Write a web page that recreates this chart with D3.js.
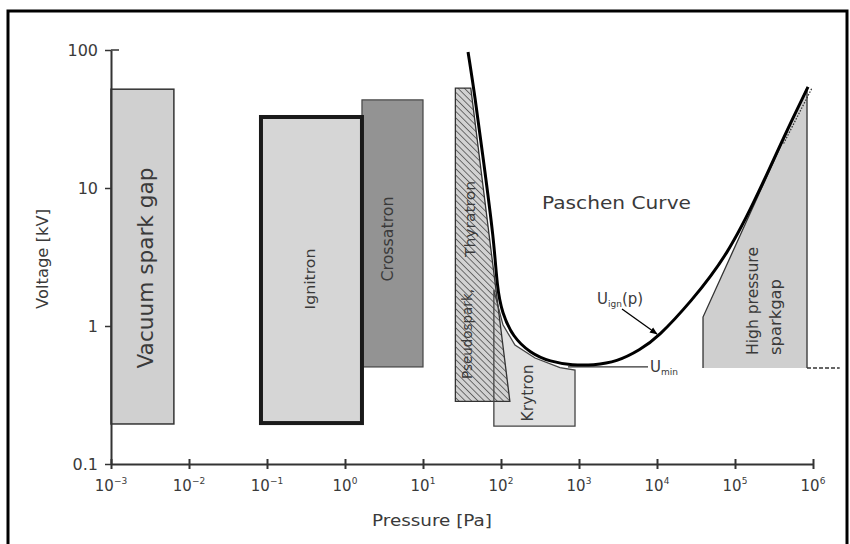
<!DOCTYPE html>
<html>
<head>
<meta charset="utf-8">
<script src="https://cdn.jsdelivr.net/npm/d3@7"></script>
<style>
  body { margin:0; background:#fff; }
  svg text { font-family: "DejaVu Sans", sans-serif; fill:#3a3a3a; }
</style>
</head>
<body>
<div id="chart"></div>
<script>
// axis ticks
var xDecades = [-3,-2,-1,0,1,2,3,4,5,6];
var yTicks = [0.1, 1, 10, 100];
var yTickLabels = ["0.1","1","10","100"];

// rectangular device ranges (pressure Pa, voltage kV)
var boxNames = ["Vacuum spark gap","Crossatron","Ignitron"];
var boxPMin = [0.001, 1.65, 0.0837];
var boxPMax = [0.0064, 10, 1.65];
var boxVMin = [0.195, 0.505, 0.198];
var boxVMax = [52, 43.5, 32.7];

// polygons
var thyratronP = [26, 26, 41, 130];
var thyratronV = [0.284, 53, 53, 0.284];
var krytronP = [81, 81, 106, 151, 273, 570, 889, 889];
var krytronV = [0.188, 1.82, 1.02, 0.728, 0.586, 0.50, 0.48, 0.188];
var sparkgapP = [38900, 38900, 838000, 838000];
var sparkgapV = [0.497, 1.16, 53, 0.497];

// Paschen curve
var paschenP = [37.8, 46.5, 58.7, 81.3, 88.9, 103, 143, 235, 425, 838, 1510, 3070, 6050, 10300, 26500, 81000, 209000, 420000, 863000];
var paschenV = [96.8, 45.6, 16.8, 4.2, 1.92, 1.24, 0.83, 0.64, 0.55, 0.52, 0.52, 0.55, 0.67, 0.83, 1.47, 3.27, 9.68, 23.4, 54];

var width = 850, height = 544;

var svg = d3.select("#chart").append("svg")
    .attr("width", width).attr("height", height);

// frame
svg.append("rect").attr("x",8).attr("y",11).attr("width",839).attr("height",560)
   .attr("fill","none").attr("stroke","#000").attr("stroke-width",3);

var x = d3.scaleLog().domain([1e-3, 1e6]).range([111, 813]);
var y = d3.scaleLog().domain([0.1, 100]).range([464, 50]);

var defs = svg.append("defs");
var pat = defs.append("pattern").attr("id","hatch")
   .attr("patternUnits","userSpaceOnUse").attr("width",4.5).attr("height",4.5)
   .attr("patternTransform","rotate(-45)");
pat.append("rect").attr("width",4.5).attr("height",4.5).attr("fill","#d2d2d2");
pat.append("line").attr("x1",0).attr("y1",0).attr("x2",0).attr("y2",4.5)
   .attr("stroke","#333").attr("stroke-width",1.3);

var poly = function(P, V){
  return P.map(function(p,i){ return [x(p), y(V[i])]; });
};
var polyLine = d3.line();

// boxes
var boxFill = ["#d0d0d0","#939393","#d6d6d6"];
var boxStroke = ["#333","#444","#1a1a1a"];
var boxWidth = [1.5, 1.2, 4];
boxNames.forEach(function(n,i){
  svg.append("rect")
    .attr("x", x(boxPMin[i])).attr("y", y(boxVMax[i]))
    .attr("width", x(boxPMax[i]) - x(boxPMin[i]))
    .attr("height", y(boxVMin[i]) - y(boxVMax[i]))
    .attr("fill", boxFill[i]).attr("stroke", boxStroke[i]).attr("stroke-width", boxWidth[i]);
});

// krytron fill, thyratron hatch, krytron outline
svg.append("path").attr("d", polyLine(poly(krytronP, krytronV)) + "Z")
   .attr("fill","#e1e1e1").attr("stroke","none");
svg.append("path").attr("d", polyLine(poly(thyratronP, thyratronV)) + "Z")
   .attr("fill","url(#hatch)").attr("stroke","#333").attr("stroke-width",1.3);
svg.append("path").attr("d", polyLine(poly(krytronP, krytronV)) + "Z")
   .attr("fill","none").attr("stroke","#444").attr("stroke-width",1.3);

// high pressure sparkgap
svg.append("path").attr("d", polyLine(poly(sparkgapP, sparkgapV)))
   .attr("fill","#cfcfcf").attr("stroke","#333").attr("stroke-width",1.3);
svg.append("line")
   .attr("x1", x(sparkgapP[3])).attr("y1", y(sparkgapV[3]))
   .attr("x2", x(2.2e6)).attr("y2", y(sparkgapV[3]))
   .attr("stroke","#333").attr("stroke-width",1.5).attr("stroke-dasharray","4,2");
svg.append("line")
   .attr("x1", x(420000)).attr("y1", y(21))
   .attr("x2", x(970000)).attr("y2", y(53))
   .attr("stroke","#333").attr("stroke-width",1.3).attr("stroke-dasharray","1.5,1.5");

// U_min line
svg.append("line")
   .attr("x1", x(723)).attr("y1", y(0.505))
   .attr("x2", x(7670)).attr("y2", y(0.505))
   .attr("stroke","#333").attr("stroke-width",1.3);

// Paschen curve
var curve = d3.line()
   .x(function(d){ return x(d[0]); })
   .y(function(d){ return y(d[1]); })
   .curve(d3.curveBasis);
svg.append("path")
   .attr("d", curve(paschenP.map(function(p,i){ return [p, paschenV[i]]; })))
   .attr("fill","none").attr("stroke","#000").attr("stroke-width",3);

// arrow for U_ign
defs.append("marker").attr("id","arr").attr("viewBox","0 0 10 10")
   .attr("refX",9).attr("refY",5).attr("markerWidth",6).attr("markerHeight",6)
   .attr("orient","auto")
   .append("path").attr("d","M0,1L10,5L0,9Z").attr("fill","#000");
svg.append("line")
   .attr("x1", x(3560)).attr("y1", y(1.33))
   .attr("x2", x(10000)).attr("y2", y(0.875))
   .attr("stroke","#000").attr("stroke-width",1.3).attr("marker-end","url(#arr)");

// axes
var xAxis = d3.axisBottom(x)
   .tickValues(xDecades.map(function(e){ return Math.pow(10,e); }))
   .tickFormat("").tickSize(5).tickSizeOuter(0);
var gx = svg.append("g").attr("transform","translate(0,464)").call(xAxis);
gx.select(".domain").attr("stroke","#333").attr("stroke-width",2);
gx.selectAll(".tick line").attr("y1",-5).attr("y2",5).attr("stroke","#333").attr("stroke-width",2);

var yAxis = d3.axisLeft(y).tickValues(yTicks).tickFormat("").tickSize(6).tickSizeOuter(0);
var gy = svg.append("g").attr("transform","translate(111,0)").call(yAxis);
gy.select(".domain").attr("stroke","#333").attr("stroke-width",2);
gy.selectAll(".tick line").attr("stroke","#333").attr("stroke-width",1.5);
gy.append("line").attr("x1",0).attr("x2",8).attr("y1",y(100)).attr("y2",y(100))
   .attr("stroke","#333").attr("stroke-width",1.5);

yTicks.forEach(function(v,i){
  svg.append("text").attr("x",98).attr("y",y(v)).attr("dy","0.35em")
     .attr("text-anchor","end").style("font-size","16px").text(yTickLabels[i]);
});

xDecades.forEach(function(e){
  var t = svg.append("text").attr("x", x(Math.pow(10,e))).attr("y",491)
     .attr("text-anchor","middle").style("font-size","15px");
  t.append("tspan").text("10");
  t.append("tspan").attr("dy",-7).style("font-size","9px").text(String(e).replace("-","\u2212"));
});

svg.append("text").attr("x",432).attr("y",526).attr("text-anchor","middle")
   .attr("textLength",120).attr("lengthAdjust","spacingAndGlyphs")
   .style("font-size","16px").text("Pressure [Pa]");
svg.append("text").attr("transform","translate(48,259) rotate(-90)")
   .attr("text-anchor","middle").attr("textLength",100).attr("lengthAdjust","spacingAndGlyphs")
   .style("font-size","15px").text("Voltage [kV]");

// device labels
var rot = function(px, py, txt, size, len, anchor){
  svg.append("text").attr("transform","translate("+px+","+py+") rotate(-90)")
     .attr("text-anchor", anchor || "middle").attr("dy","0.35em")
     .attr("textLength", len).attr("lengthAdjust","spacingAndGlyphs")
     .style("font-size", size+"px").text(txt);
};
rot(146, 268, boxNames[0], 21, 201);
rot(310, 279, boxNames[2], 14, 61);
rot(388, 239, boxNames[1], 15, 85);
rot(467, 379, "Pseudospark,", 14, 90, "start");
rot(470, 257, "Thyratron", 14, 76, "start");
rot(528, 393, "Krytron", 15, 57);
rot(753, 355, "High pressure", 15, 108, "start");
rot(776, 355, "sparkgap", 15, 76, "start");

svg.append("text").attr("x",542).attr("y",209)
   .attr("textLength",149).attr("lengthAdjust","spacingAndGlyphs")
   .style("font-size","17px").text("Paschen Curve");

var ui = svg.append("text").attr("x",597).attr("y",304).style("font-size","15px");
ui.append("tspan").text("U");
ui.append("tspan").attr("dy",3).style("font-size","9px").text("ign");
ui.append("tspan").attr("dy",-3).text("(p)");

var um = svg.append("text").attr("x",650).attr("y",372).style("font-size","15px");
um.append("tspan").text("U");
um.append("tspan").attr("dy",3).style("font-size","9px").text("min");
</script>
</body>
</html>
